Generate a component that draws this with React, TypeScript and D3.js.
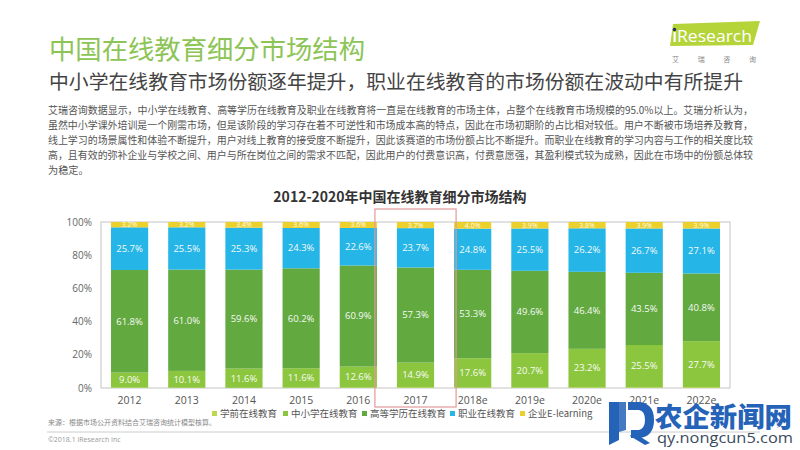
import React from 'react';
import * as d3 from 'd3';

const years = ['2012', '2013', '2014', '2015', '2016', '2017', '2018e', '2019e', '2020e', '2021e', '2022e'];
const seriesNames = ['学前在线教育', '中小学在线教育', '高等学历在线教育', '职业在线教育', '企业E-learning'];
const preschool = [0.3, 0.2, 0.1, 0.3, 0.3, 0.4, 0.3, 0.3, 0.4, 0.4, 0.5];
const k12 = [9.0, 10.1, 11.6, 11.6, 12.6, 14.9, 17.6, 20.7, 23.2, 25.5, 27.7];
const higher = [61.8, 61.0, 59.6, 60.2, 60.9, 57.3, 53.3, 49.6, 46.4, 43.5, 40.8];
const vocational = [25.7, 25.5, 25.3, 24.3, 22.6, 23.7, 24.8, 25.5, 26.2, 26.7, 27.1];
const enterprise = [3.2, 3.2, 3.4, 3.6, 3.6, 3.7, 4.0, 3.9, 3.8, 3.9, 3.9];
const yTicks = [0, 20, 40, 60, 80, 100];
const colors = ['#b9d84a', '#8cc63e', '#62a93f', '#25b5e6', '#ecd12c'];
const labeled = [false, true, true, true, true];

const titleText = '中国在线教育细分市场结构';
const subtitleText = '中小学在线教育市场份额逐年提升，职业在线教育的市场份额在波动中有所提升';
const paragraph = [
  '艾瑞咨询数据显示，中小学在线教育、高等学历在线教育及职业在线教育将一直是在线教育的市场主体，占整个在线教育市场规模的95.0%以上。艾瑞分析认为，',
  '虽然中小学课外培训是一个刚需市场，但是该阶段的学习存在着不可逆性和市场成本高的特点，因此在市场初期阶的占比相对较低。用户不断被市场培养及教育，',
  '线上学习的场景属性和体验不断提升，用户对线上教育的接受度不断提升，因此该赛道的市场份额占比不断提升。而职业在线教育的学习内容与工作的相关度比较',
  '高，且有效的弥补企业与学校之间、用户与所在岗位之间的需求不匹配，因此用户的付费意识高，付费意愿强，其盈利模式较为成熟，因此在市场中的份额总体较',
  '为稳定。',
];
const chartTitle = '2012-2020年中国在线教育细分市场结构';
const sourceText = '来源：根据市场公开资料结合艾瑞咨询统计模型核算。';
const copyright = '©2018.1 iResearch Inc';

const FONT = '"Noto Sans CJK SC", "Noto Sans", sans-serif';
const NUMFONT = '"Open Sans", "Noto Sans", sans-serif';

export default function App() {
  const left = 101, right = 730, top = 222, bottom = 388;
  const x = d3.scaleBand().domain(years).range([left, right]).paddingInner(0.35).paddingOuter(0.175);
  const y = d3.scaleLinear().domain([0, 100]).range([bottom, top]);

  const rows = years.map((yr, i) => ({
    year: yr,
    s0: preschool[i], s1: k12[i], s2: higher[i], s3: vocational[i], s4: enterprise[i],
  }));
  const keys = ['s0', 's1', 's2', 's3', 's4'];
  const stacked = d3.stack<any>().keys(keys)(rows);

  const hx = x('2017')!;
  const legendX = [212, 283, 362, 450, 520];

  return (
    <svg width={800} height={450} style={{ position: 'absolute', left: 0, top: 0, background: '#fff' }} fontFamily={FONT}>
      <rect x={0} y={0} width={800} height={450} fill="#fff" />
      {/* Header */}
      <text x={49} y={59} fontSize={26} fill="#8dc456" textLength={316} lengthAdjust="spacingAndGlyphs">{titleText}</text>
      <text x={49} y={89} fontSize={19.5} fill="#444" fontWeight={400} textLength={694} lengthAdjust="spacingAndGlyphs">{subtitleText}</text>
      {/* iResearch logo */}
      <path d="M 673 24 L 760 21 L 753 45 L 670 46 Z" fill="#b5d43a" />
      <circle cx={674.5} cy={29.5} r={1.7} fill="#1a2a6c" />
      <rect x={673.5} y={32} width={2.2} height={10} fill="#fff" />
      <text x={677} y={42} fontSize={17} fill="#fff" fontFamily={NUMFONT} textLength={75} lengthAdjust="spacingAndGlyphs">Research</text>
      <text x={672} y={62} fontSize={7} fill="#888" textLength={84} lengthAdjust="spacing">艾瑞咨询</text>
      {/* paragraph */}
      {paragraph.map((line, i) => (
        <text key={i} x={48} y={114 + i * 15} fontSize={10.2} fill="#555"
          {...(i < 4 ? { textLength: 705, lengthAdjust: 'spacingAndGlyphs' } : {})}>{line}</text>
      ))}
      {/* chart title */}
      <text x={400} y={202} fontSize={14} fontWeight={700} fill="#333" textAnchor="middle">{chartTitle}</text>
      {/* frame */}
      <rect x={left} y={top} width={right - left} height={bottom - top} fill="none" stroke="#c4c4c4" strokeWidth={1} />
      {/* y ticks */}
      {yTicks.map(t => (
        <text key={t} x={92} y={y(t)} dy="0.35em" fontSize={10} fill="#666" textAnchor="end" fontFamily={NUMFONT}>{t}%</text>
      ))}
      {/* bars */}
      {stacked.map((layer, si) => (
        <g key={si} fill={colors[si]}>
          {layer.map((d, i) => (
            <rect key={i} x={x(years[i])} y={y(d[1])} width={x.bandwidth()} height={y(d[0]) - y(d[1])} />
          ))}
        </g>
      ))}
      {stacked.map((layer, si) => labeled[si] ? (
        <g key={'l' + si}>
          {layer.map((d, i) => (
            <text key={i} x={x(years[i])! + x.bandwidth() / 2} y={(y(d[0]) + y(d[1])) / 2} dy="0.35em"
              textAnchor="middle" fill="#fff" fontFamily={NUMFONT} fontSize={si === 4 ? 7 : 9.5} opacity={0.95}>
              {(d[1] - d[0]).toFixed(1)}%
            </text>
          ))}
        </g>
      ) : null)}
      {/* x labels */}
      {years.map(yr => (
        <text key={yr} x={x(yr)! + x.bandwidth() / 2} y={400} dy="0.35em" fontSize={10.5} fill="#555" textAnchor="middle" fontFamily={NUMFONT}>{yr}</text>
      ))}
      {/* highlight box */}
      <rect x={hx - 22} y={209} width={x.bandwidth() + 44} height={198} fill="none" stroke="#e39a9a" strokeWidth={1.2} />
      {/* legend */}
      {seriesNames.map((n, i) => (
        <g key={n}>
          <rect x={legendX[i]} y={411} width={5} height={5} fill={colors[i]} />
          <text x={legendX[i] + 8} y={414} dy="0.35em" fontSize={9.5} fill="#555">{n}</text>
        </g>
      ))}
      {/* footer */}
      <text x={48} y={423} dy="0.35em" fontSize={7} fill="#888">{sourceText}</text>
      <line x1={47} x2={760} y1={432} y2={432} stroke="#ccc" strokeWidth={1} />
      <text x={48} y={440} dy="0.35em" fontSize={7} fill="#999" fontFamily={NUMFONT}>{copyright}</text>
      <text x={776} y={428} fontSize={8} fill="#999" fontFamily={NUMFONT}>7</text>
      {/* watermark */}
      <g fill="#2463b8">
        <path d="M 609 402 L 619 402 L 619 440 L 609 445 Z" />
        <path d="M 619 402 L 626 402 L 626 430 L 619 432 Z" opacity={0.85} />
        <path d="M 628 402 L 640 402 Q 654 404 654 420 Q 654 436 640 438 L 631 438 L 631 430 L 639 430 Q 645 428 645 420 Q 645 411 639 410 L 628 410 Z" />
        <path d="M 633 432 L 650 443 L 645 445 L 630 436 Z" />
      </g>
      <text x={655} y={427} fontSize={27} fontWeight={900} fill="#2463b8" textLength={137} lengthAdjust="spacingAndGlyphs">农企新闻网</text>
      <text x={657} y={443} fontSize={15} fill="#3a4a5e" fontFamily={NUMFONT} textLength={136} lengthAdjust="spacingAndGlyphs">qy.nongcun5.com</text>
    </svg>
  );
}
